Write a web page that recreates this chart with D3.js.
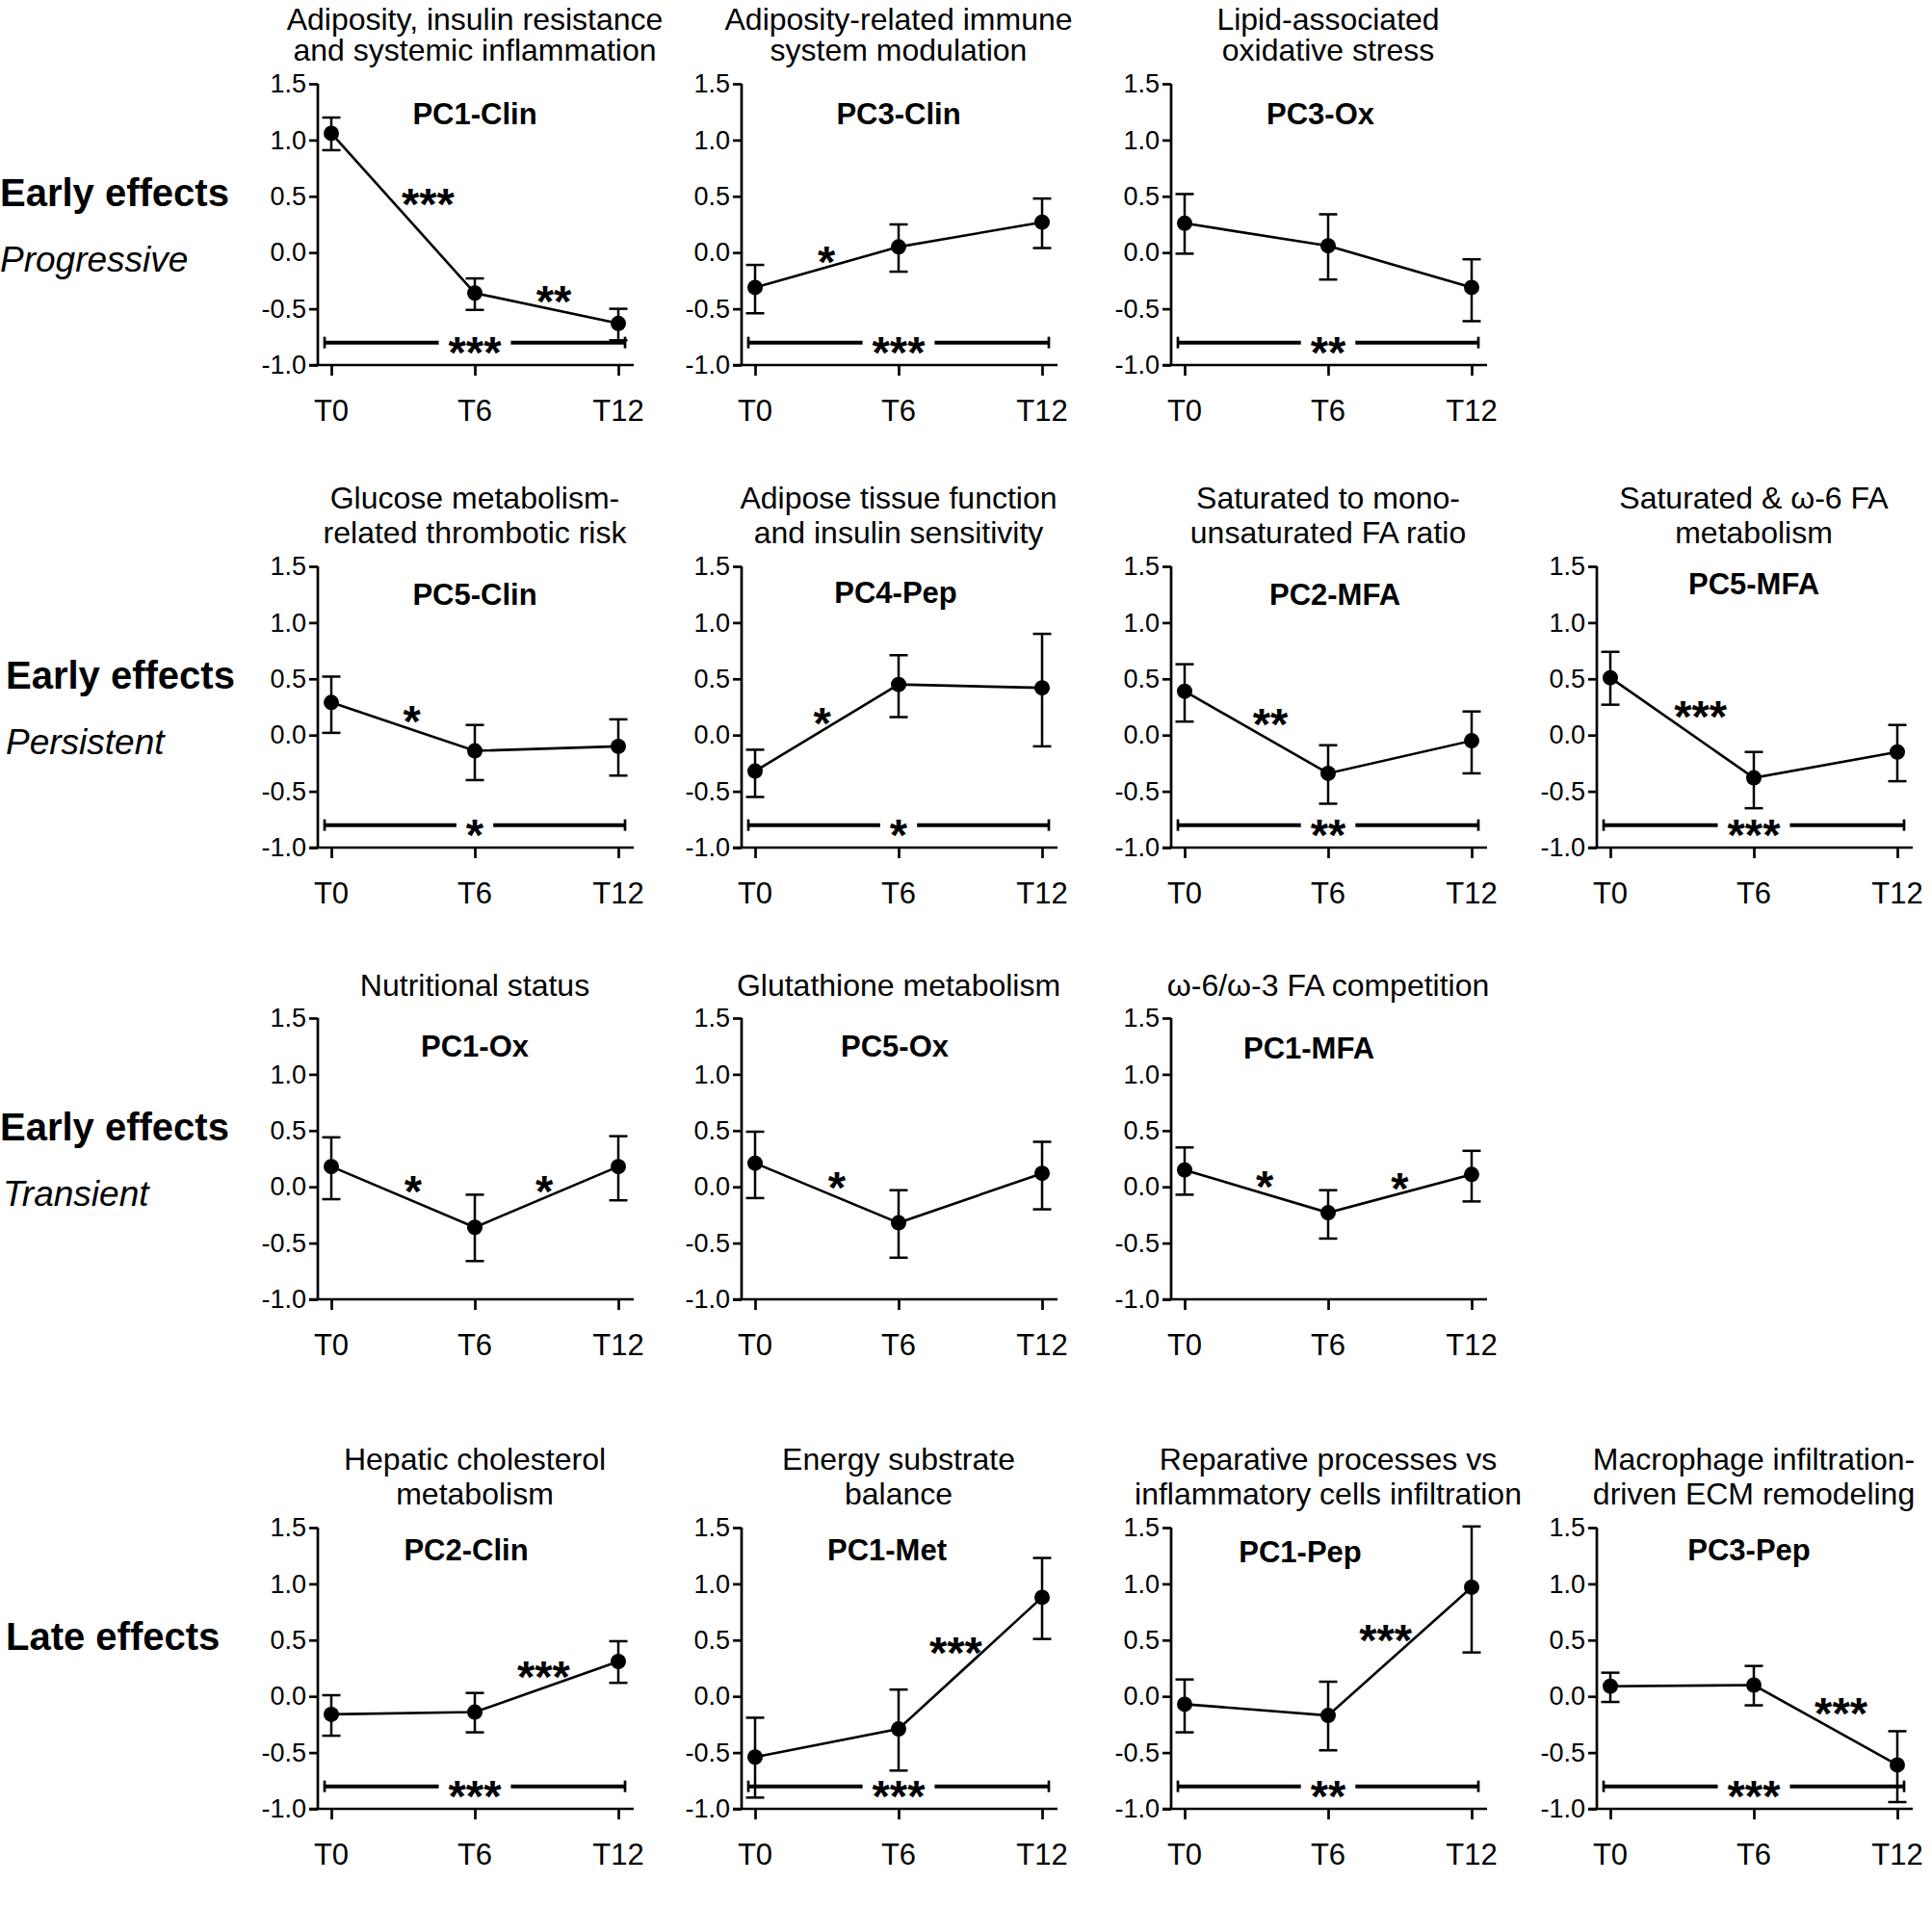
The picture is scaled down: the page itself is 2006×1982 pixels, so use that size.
<!DOCTYPE html>
<html>
<head>
<meta charset="utf-8">
<script src="https://cdn.jsdelivr.net/npm/d3@7"></script>
<style>
  body { margin: 0; background: #fff; }
  text { font-family: "Liberation Sans", Arial, sans-serif; fill: #000; }
</style>
</head>
<body>
<div id="chart"></div>
<script>
// ---- data ----
var times = ["T0", "T6", "T12"];
var yTicks = [-1.0, -0.5, 0.0, 0.5, 1.0, 1.5];

var rowMain = ["Early effects", "Early effects", "Early effects", "Late effects"];
var rowSub = ["Progressive", "Persistent", "Transient", ""];

var panelNames = ["PC1-Clin", "PC3-Clin", "PC3-Ox",
  "PC5-Clin", "PC4-Pep", "PC2-MFA", "PC5-MFA",
  "PC1-Ox", "PC5-Ox", "PC1-MFA",
  "PC2-Clin", "PC1-Met", "PC1-Pep", "PC3-Pep"];

var panelTitles = [
  ["Adiposity, insulin resistance", "and systemic inflammation"],
  ["Adiposity-related immune", "system modulation"],
  ["Lipid-associated", "oxidative stress"],
  ["Glucose metabolism-", "related thrombotic risk"],
  ["Adipose tissue function", "and insulin sensitivity"],
  ["Saturated to mono-", "unsaturated FA ratio"],
  ["Saturated & ω-6 FA", "metabolism"],
  ["Nutritional status"],
  ["Glutathione metabolism"],
  ["ω-6/ω-3 FA competition"],
  ["Hepatic cholesterol", "metabolism"],
  ["Energy substrate", "balance"],
  ["Reparative processes vs", "inflammatory cells infiltration"],
  ["Macrophage infiltration-", "driven ECM remodeling"]
];

var means = [
  [1.06, -0.36, -0.63], [-0.31, 0.05, 0.27], [0.26, 0.06, -0.31],
  [0.29, -0.14, -0.10], [-0.32, 0.45, 0.42], [0.39, -0.34, -0.05], [0.51, -0.38, -0.15],
  [0.18, -0.36, 0.18], [0.21, -0.32, 0.12], [0.15, -0.23, 0.11],
  [-0.16, -0.14, 0.31], [-0.54, -0.29, 0.88], [-0.07, -0.17, 0.97], [0.09, 0.10, -0.61]
];
var lower = [
  [0.91, -0.51, -0.78], [-0.54, -0.17, 0.04], [-0.01, -0.24, -0.61],
  [0.02, -0.40, -0.36], [-0.55, 0.16, -0.10], [0.12, -0.61, -0.34], [0.27, -0.65, -0.41],
  [-0.11, -0.66, -0.12], [-0.10, -0.63, -0.20], [-0.07, -0.46, -0.13],
  [-0.35, -0.32, 0.12], [-0.90, -0.66, 0.51], [-0.32, -0.48, 0.39], [-0.05, -0.08, -0.94]
];
var upper = [
  [1.20, -0.23, -0.50], [-0.11, 0.25, 0.48], [0.52, 0.34, -0.06],
  [0.52, 0.09, 0.14], [-0.13, 0.71, 0.90], [0.63, -0.09, 0.21], [0.74, -0.15, 0.09],
  [0.44, -0.07, 0.45], [0.49, -0.03, 0.40], [0.35, -0.03, 0.32],
  [0.01, 0.03, 0.49], [-0.19, 0.06, 1.23], [0.15, 0.13, 1.51], [0.21, 0.27, -0.31]
];
// significance T0-T6, T6-T12
var pairSig = [
  ["***", "**"], ["*", ""], ["", ""],
  ["*", ""], ["*", ""], ["**", ""], ["***", ""],
  ["*", "*"], ["*", ""], ["*", "*"],
  ["", "***"], ["", "***"], ["", "***"], ["", "***"]
];
// overall T0 vs T12
var overallSig = ["***", "***", "**", "*", "*", "**", "***", "", "", "", "***", "***", "**", "***"];
var overallLevel = -0.8;

// ---- layout ----
var colX = [330, 770, 1216, 1658];
var rowY = [87, 588, 1057, 1586];
var slots = [[0, 0], [0, 1], [0, 2],
  [1, 0], [1, 1], [1, 2], [1, 3],
  [2, 0], [2, 1], [2, 2],
  [3, 0], [3, 1], [3, 2], [3, 3]];
var nameShift = [[0, 42], [0, 42], [-8, 42], [0, 40], [-3, 38], [7, 40], [0, 29],
  [0, 40], [-4, 40], [-20, 42], [-9, 34], [-12, 34], [-29, 36], [-5, 34]];
var rowLabelX = [[0, 0], [6, 6], [0, 3], [6, 0]];

var plotH = 292, axisW = 328;

var svg = d3.select("#chart").append("svg")
  .attr("width", 2006)
  .attr("height", 1982);

var xScale = d3.scalePoint().domain(times).range([14, 312]);
var yScale = d3.scaleLinear().domain([-1, 1.5]).range([plotH, 0]);

// row labels
rowMain.forEach(function(label, r) {
  svg.append("text")
    .attr("x", rowLabelX[r][0])
    .attr("y", rowY[r] + 127)
    .style("font-size", "40px")
    .style("font-weight", "bold")
    .text(label);
  if (rowSub[r]) {
    svg.append("text")
      .attr("x", rowLabelX[r][1])
      .attr("y", rowY[r] + 195)
      .style("font-size", "37px")
      .style("font-style", "italic")
      .text(rowSub[r]);
  }
});

function starText(g, x, y, s) {
  return g.append("text")
    .attr("x", x)
    .attr("y", y + 26)
    .attr("text-anchor", "middle")
    .style("font-size", "47px")
    .style("font-weight", "bold")
    .text(s);
}

panelNames.forEach(function(name, i) {
  var r = slots[i][0], c = slots[i][1];
  var g = svg.append("g")
    .attr("transform", `translate(${colX[c]}, ${rowY[r]})`);

  // title (first row kept inside the page edge)
  var lines = panelTitles[i];
  lines.forEach(function(line, k) {
    var dy = lines.length === 2 ? (k === 0 ? -60 : -24) : -23;
    dy = Math.max(dy, 31 - rowY[r]);
    g.append("text")
      .attr("x", xScale("T6"))
      .attr("y", dy)
      .attr("text-anchor", "middle")
      .style("font-size", "32px")
      .text(line);
  });

  // axes
  var leftAxis = d3.axisLeft(yScale)
    .tickValues(yTicks)
    .tickFormat(d3.format(".1f"))
    .tickSize(9)
    .tickPadding(3);
  var ya = g.append("g").call(leftAxis);
  ya.select(".domain").attr("d", `M0,0V${plotH}`).attr("stroke-width", 2.7);
  ya.selectAll(".tick line").attr("stroke-width", 2.7);
  ya.selectAll(".tick text")
    .style("font-size", "27px")
    .style("font-family", "'Liberation Sans', Arial, sans-serif")
    .text(function(d) { return d3.format(".1f")(d).replace("−", "-"); });

  var bottomAxis = d3.axisBottom(xScale).tickSize(11).tickFormat("");
  var xa = g.append("g")
    .attr("transform", `translate(0, ${plotH})`)
    .call(bottomAxis);
  xa.select(".domain").attr("d", `M-9,0H${axisW}`).attr("stroke-width", 2.7);
  xa.selectAll(".tick line").attr("stroke-width", 2.7);

  g.selectAll(".tlabel")
    .data(times)
    .enter()
    .append("text")
    .attr("class", "tlabel")
    .attr("x", d => xScale(d))
    .attr("y", plotH + 58)
    .attr("text-anchor", "middle")
    .style("font-size", "31px")
    .text(d => d);

  // panel name
  g.append("text")
    .attr("x", xScale("T6") + nameShift[i][0])
    .attr("y", nameShift[i][1])
    .attr("text-anchor", "middle")
    .style("font-size", "31px")
    .style("font-weight", "bold")
    .text(name);

  var pts = times.map(function(t, k) {
    return { t: t, m: means[i][k], lo: lower[i][k], hi: upper[i][k] };
  });

  // overall significance bar
  if (overallSig[i]) {
    var by = yScale(overallLevel);
    var x0 = xScale("T0") - 7, x1 = xScale("T12") + 7, xm = xScale("T6");
    var st = starText(g, xm, by, overallSig[i]);
    var half = st.node().getComputedTextLength() / 2 + 10;
    [[x0, xm - half], [xm + half, x1]].forEach(function(seg) {
      g.append("line")
        .attr("x1", seg[0]).attr("x2", seg[1])
        .attr("y1", by).attr("y2", by)
        .attr("stroke", "#000").attr("stroke-width", 4);
    });
    [x0, x1].forEach(function(xx) {
      g.append("line")
        .attr("x1", xx).attr("x2", xx)
        .attr("y1", by - 6).attr("y2", by + 6)
        .attr("stroke", "#000").attr("stroke-width", 2.7);
    });
  }

  // mean line
  var line = d3.line().x(d => xScale(d.t)).y(d => yScale(d.m));
  g.append("path")
    .datum(pts)
    .attr("d", line)
    .attr("fill", "none")
    .attr("stroke", "#000")
    .attr("stroke-width", 2.6);

  // error bars
  var eb = g.selectAll(".eb").data(pts).enter().append("g").attr("class", "eb");
  eb.append("line")
    .attr("x1", d => xScale(d.t)).attr("x2", d => xScale(d.t))
    .attr("y1", d => yScale(d.lo)).attr("y2", d => yScale(d.hi))
    .attr("stroke", "#000").attr("stroke-width", 2.5);
  ["lo", "hi"].forEach(function(key) {
    eb.append("line")
      .attr("x1", d => xScale(d.t) - 9.5).attr("x2", d => xScale(d.t) + 9.5)
      .attr("y1", d => yScale(d[key])).attr("y2", d => yScale(d[key]))
      .attr("stroke", "#000").attr("stroke-width", 2.5);
  });

  g.selectAll("circle")
    .data(pts)
    .enter()
    .append("circle")
    .attr("cx", d => xScale(d.t))
    .attr("cy", d => yScale(d.m))
    .attr("r", 8)
    .attr("fill", "#000");

  // pairwise significance, placed just above each segment
  pairSig[i].forEach(function(s, k) {
    if (!s) return;
    var a = pts[k], b = pts[k + 1];
    var ax = xScale(a.t), ay = yScale(a.m), bx = xScale(b.t), bypos = yScale(b.m);
    var dx = bx - ax, dy = bypos - ay, len = Math.hypot(dx, dy);
    var nx = dy / len, ny = -dx / len;   // normal pointing upward
    if (ny > 0) { nx = -nx; ny = -ny; }
    var w = s.length * 16;
    var d = 7 + 0.5 * w * Math.abs(nx) + 0.5 * 14 * Math.abs(ny);
    starText(g, (ax + bx) / 2 + nx * d + 4, (ay + bypos) / 2 + ny * d, s);
  });
});
</script>
</body>
</html>
